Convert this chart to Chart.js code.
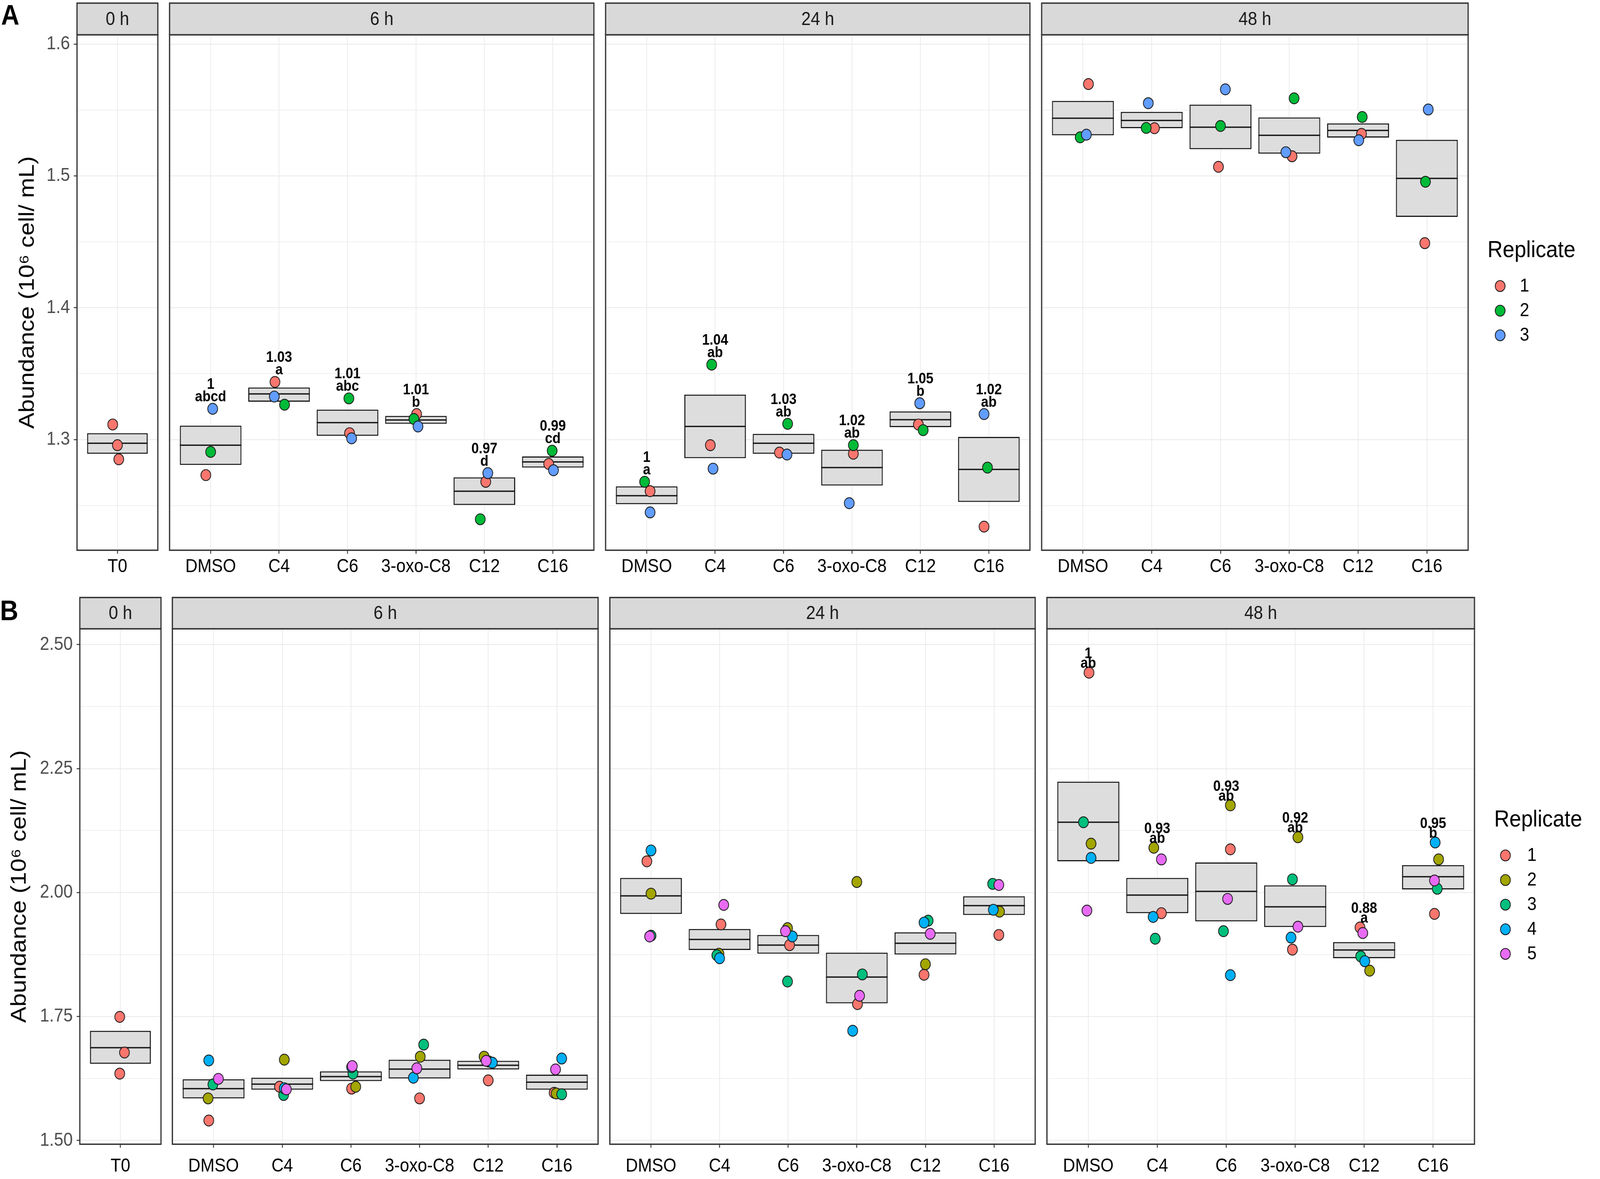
<!DOCTYPE html>
<html><head><meta charset="utf-8">
<script src="https://cdn.jsdelivr.net/npm/chart.js@4.4.1/dist/chart.umd.min.js"></script>
<style>
html,body{margin:0;padding:0;background:#fff;overflow:hidden;}
body{position:relative;font-family:"Liberation Sans",Arial,sans-serif;}
#stage{position:absolute;left:0;top:0;width:4550px;height:3017px;transform-origin:0 0;background:#fff;}
canvas{position:absolute;}
.tag{position:absolute;font-weight:bold;font-size:72px;line-height:72px;font-family:"Liberation Sans",Arial,sans-serif;color:#000;}
</style></head><body>
<div id="stage">
<div class="tag" style="left:3px;top:2px">A</div>
<div class="tag" style="left:0px;top:1526px">B</div>
</div>
<script>
// ---------------- categories / texts ----------------
const catsT0 = ['T0'];
const catsTrt = ['DMSO', 'C4', 'C6', '3-oxo-C8', 'C12', 'C16'];
const facetNames = ['0 h', '6 h', '24 h', '48 h'];
const yTitle = 'Abundance (10\u2076 cell/ mL)';
const legendTitle = 'Replicate';

// ---------------- Panel A ----------------
const repsA = ['1', '2', '3'];
const colorsA = ['#F8766D', '#00BA38', '#619CFF'];
const ticksA = [1.3, 1.4, 1.5, 1.6];
const tickLabelsA = ['1.3', '1.4', '1.5', '1.6'];
const minorTicksA = [1.25, 1.35, 1.45, 1.55];

const a0Mean = [1.2972], a0Lo = [1.2892], a0Hi = [1.3048];
const a0Points = [1.3114, 1.2957, 1.2850];
const a0Jit = [-0.07, 0.00, 0.02];

const a6Mean = [1.2957, 1.3346, 1.3128, 1.3148, 1.2608, 1.2830];
const a6Lo   = [1.2807, 1.3287, 1.3028, 1.3119, 1.2503, 1.2787];
const a6Hi   = [1.3105, 1.3395, 1.3227, 1.3179, 1.2713, 1.2872];
const a6R1 = [1.2730, 1.3437, 1.3048, 1.3193, 1.2679, 1.2815];
const a6R2 = [1.2906, 1.3264, 1.3312, 1.3156, 1.2395, 1.2915];
const a6R3 = [1.3233, 1.3326, 1.3009, 1.3099, 1.2745, 1.2767];
const a6J1 = [-0.07, -0.06, 0.03, 0.01, 0.02, -0.06];
const a6J2 = [0.00, 0.08, 0.02, -0.03, -0.06, -0.01];
const a6J3 = [0.03, -0.07, 0.06, 0.03, 0.05, 0.01];
const a6Num = ['1', '1.03', '1.01', '1.01', '0.97', '0.99'];
const a6Let = ['abcd', 'a', 'abc', 'b', 'd', 'cd'];

const a24Mean = [1.2574, 1.3099, 1.2972, 1.2787, 1.3150, 1.2773];
const a24Lo   = [1.2509, 1.2858, 1.2892, 1.2651, 1.3094, 1.2526];
const a24Hi   = [1.2645, 1.3341, 1.3043, 1.2923, 1.3213, 1.3020];
const a24R1 = [1.2608, 1.2957, 1.2901, 1.2892, 1.3114, 1.2339];
const a24R2 = [1.2679, 1.3568, 1.3119, 1.2957, 1.3071, 1.2787];
const a24R3 = [1.2447, 1.2779, 1.2886, 1.2517, 1.3275, 1.3193];
const a24J1 = [0.05, -0.07, -0.06, 0.02, -0.03, -0.07];
const a24J2 = [-0.03, -0.05, 0.06, 0.02, 0.04, -0.02];
const a24J3 = [0.05, -0.03, 0.05, -0.04, -0.01, -0.07];
const a24Num = ['1', '1.04', '1.03', '1.02', '1.05', '1.02'];
const a24Let = ['a', 'ab', 'ab', 'ab', 'b', 'ab'];

const a48Mean = [1.5438, 1.5421, 1.5370, 1.5308, 1.5345, 1.4981];
const a48Lo   = [1.5308, 1.5362, 1.5203, 1.5169, 1.5291, 1.4689];
const a48Hi   = [1.5569, 1.5486, 1.5541, 1.5444, 1.5399, 1.5274];
const a48R1 = [1.5697, 1.5362, 1.5069, 1.5149, 1.5319, 1.4490];
const a48R2 = [1.5293, 1.5364, 1.5379, 1.5589, 1.5447, 1.4956];
const a48R3 = [1.5313, 1.5552, 1.5657, 1.5180, 1.5271, 1.5504];
const a48J1 = [0.08, 0.04, -0.03, 0.04, 0.05, -0.03];
const a48J2 = [-0.04, -0.08, 0.00, 0.07, 0.06, -0.02];
const a48J3 = [0.05, -0.05, 0.07, -0.05, 0.01, 0.02];

// ---------------- Panel B ----------------
const repsB = ['1', '2', '3', '4', '5'];
const colorsB = ['#F8766D', '#A3A500', '#00BF7D', '#00B0F6', '#E76BF3'];
const ticksB = [1.5, 1.75, 2.0, 2.25, 2.5];
const tickLabelsB = ['1.50', '1.75', '2.00', '2.25', '2.50'];
const minorTicksB = [1.625, 1.875, 2.125, 2.375];

const b0Mean = [1.6871], b0Lo = [1.6545], b0Hi = [1.7212];
const b0Points = [1.7492, 1.6773, 1.6348];
const b0Jit = [-0.01, 0.06, -0.01];

const b6Mean = [1.6045, 1.6136, 1.6288, 1.6439, 1.6515, 1.6174];
const b6Lo   = [1.5848, 1.6023, 1.6197, 1.6250, 1.6432, 1.6023];
const b6Hi   = [1.6235, 1.6265, 1.6394, 1.6629, 1.6606, 1.6326];
const b6R1 = [1.5402, 1.6083, 1.6045, 1.5848, 1.6212, 1.5962];
const b6R2 = [1.5848, 1.6629, 1.6083, 1.6689, 1.6689, 1.5947];
const b6R3 = [1.6129, 1.5917, 1.6348, 1.6932, 1.6591, 1.5932];
const b6R4 = [1.6614, 1.6053, 1.6480, 1.6265, 1.6568, 1.6652];
const b6R5 = [1.6242, 1.6030, 1.6500, 1.6455, 1.6606, 1.6432];
const b6J1 = [-0.07, -0.04, 0.01, 0.00, 0.00, -0.04];
const b6J2 = [-0.08, 0.03, 0.07, 0.01, -0.06, -0.01];
const b6J3 = [-0.01, 0.02, 0.03, 0.06, 0.01, 0.07];
const b6J4 = [-0.07, 0.03, 0.01, -0.09, 0.06, 0.07];
const b6J5 = [0.07, 0.06, 0.02, -0.04, -0.03, -0.02];

const b24Mean = [1.9932, 1.9053, 1.8939, 1.8295, 1.8977, 1.9735];
const b24Lo   = [1.9568, 1.8841, 1.8765, 1.7765, 1.8750, 1.9545];
const b24Hi   = [2.0295, 1.9265, 1.9144, 1.8788, 1.9197, 1.9924];
const b24R1 = [2.0629, 1.9356, 1.8939, 1.7750, 1.8341, 1.9144];
const b24R2 = [1.9977, 1.8765, 1.9280, 2.0212, 1.8553, 1.9614];
const b24R3 = [1.9129, 1.8735, 1.8205, 1.8348, 1.9432, 2.0174];
const b24R4 = [2.0848, 1.8674, 1.9114, 1.7212, 1.9394, 1.9652];
const b24R5 = [1.9114, 1.9750, 1.9220, 1.7917, 1.9167, 2.0152];
const b24J1 = [-0.06, 0.02, 0.02, 0.01, -0.02, 0.07];
const b24J2 = [0.00, -0.01, -0.01, 0.00, 0.00, 0.08];
const b24J3 = [0.00, -0.04, -0.01, 0.08, 0.04, -0.02];
const b24J4 = [0.00, 0.00, 0.06, -0.06, -0.02, -0.01];
const b24J5 = [-0.02, 0.06, -0.04, 0.04, 0.07, 0.07];

const b48Mean = [2.1417, 1.9947, 2.0023, 1.9712, 1.8841, 2.0318];
const b48Lo   = [2.0629, 1.9583, 1.9417, 1.9303, 1.8674, 2.0061];
const b48Hi   = [2.2235, 2.0295, 2.0606, 2.0144, 1.9000, 2.0553];
const b48R1 = [2.4432, 1.9583, 2.0871, 1.8848, 1.9295, 1.9568];
const b48R2 = [2.0985, 2.0902, 2.1758, 2.1114, 1.8424, 2.0667];
const b48R3 = [2.1417, 1.9068, 1.9220, 2.0265, 1.8712, 2.0076];
const b48R4 = [2.0697, 1.9508, 1.8333, 1.9091, 1.8614, 2.1008];
const b48R5 = [1.9636, 2.0667, 1.9871, 1.9311, 1.9182, 2.0242];
const b48J1 = [0.01, 0.06, 0.06, -0.04, -0.06, 0.02];
const b48J2 = [0.04, -0.05, 0.06, 0.04, 0.08, 0.08];
const b48J3 = [-0.07, -0.03, -0.04, -0.04, -0.05, 0.06];
const b48J4 = [0.04, -0.06, 0.06, -0.06, 0.01, 0.03];
const b48J5 = [-0.02, 0.06, 0.02, 0.04, -0.02, 0.02];
const b48Num = ['1', '0.93', '0.93', '0.92', '0.88', '0.95'];
const b48Let = ['ab', 'ab', 'ab', 'ab', 'a', 'b'];

// ---------------- assembled structures ----------------
const panelA = {
  reps: repsA, colors: colorsA, ticks: ticksA, tickLabels: tickLabelsA, minor: minorTicksA,
  facets: [
    {cats: catsT0, mean: a0Mean, lo: a0Lo, hi: a0Hi, t0: a0Points, t0Jit: a0Jit},
    {cats: catsTrt, mean: a6Mean, lo: a6Lo, hi: a6Hi, vals: [a6R1, a6R2, a6R3], jit: [a6J1, a6J2, a6J3], nums: a6Num, lets: a6Let},
    {cats: catsTrt, mean: a24Mean, lo: a24Lo, hi: a24Hi, vals: [a24R1, a24R2, a24R3], jit: [a24J1, a24J2, a24J3], nums: a24Num, lets: a24Let},
    {cats: catsTrt, mean: a48Mean, lo: a48Lo, hi: a48Hi, vals: [a48R1, a48R2, a48R3], jit: [a48J1, a48J2, a48J3]}
  ]
};
const panelB = {
  reps: repsB, colors: colorsB, ticks: ticksB, tickLabels: tickLabelsB, minor: minorTicksB,
  facets: [
    {cats: catsT0, mean: b0Mean, lo: b0Lo, hi: b0Hi, t0: b0Points, t0Jit: b0Jit},
    {cats: catsTrt, mean: b6Mean, lo: b6Lo, hi: b6Hi, vals: [b6R1, b6R2, b6R3, b6R4, b6R5], jit: [b6J1, b6J2, b6J3, b6J4, b6J5]},
    {cats: catsTrt, mean: b24Mean, lo: b24Lo, hi: b24Hi, vals: [b24R1, b24R2, b24R3, b24R4, b24R5], jit: [b24J1, b24J2, b24J3, b24J4, b24J5]},
    {cats: catsTrt, mean: b48Mean, lo: b48Lo, hi: b48Hi, vals: [b48R1, b48R2, b48R3, b48R4, b48R5], jit: [b48J1, b48J2, b48J3, b48J4, b48J5], nums: b48Num, lets: b48Let}
  ]
};

// ---------------- geometry (layout only) ----------------
const geomA = {top: 0, height: 1510, stripTop: 8, plotTop: 89, plotBottom: 1408,
  facetX: [[219, 454.7], [476.1, 1694.8], [1716.2, 2934.9], [2956.3, 4175]],
  yMin: 1.2160, yMax: 1.6071, titleCenter: 79, xPad: 5, letOff: 19, numOff: 51,
  legend: {titleX: 4230, titleY: 641, keyX: 4266, keyY0: 732, keyStep: 63, labelX: 4322}};
const geomB = {top: 1510, height: 1507, stripTop: 1529, plotTop: 1609, plotBottom: 2928,
  facetX: [[227, 463.5], [484.9, 1706.7], [1728.1, 2949.9], [2971.3, 4193]],
  yMin: 1.4924, yMax: 2.5318, titleCenter: 56, xPad: 19, letOff: 12, numOff: 37,
  legend: {titleX: 4249, titleY: 2098, keyX: 4281, keyY0: 2189, keyStep: 63, labelX: 4343}};

// map the 4550x3017 stage onto the CSS viewport the browser actually has
const stage = document.getElementById('stage');
const vw = document.documentElement.clientWidth || window.innerWidth;
const vh = document.documentElement.clientHeight || window.innerHeight;
const sx = vw / 4550, sy = vh / 3017;
stage.style.transform = 'scale(' + sx + ',' + sy + ')';
document.body.style.width = vw + 'px';
document.body.style.height = vh + 'px';

const FONT = '"Liberation Sans", Arial, sans-serif';
Chart.defaults.font.family = FONT;
Chart.defaults.color = '#000';

function makeFacetPlugin(info) {
  return {
    id: 'facet',
    afterDatasetDraw(chart, args) {
      if (args.meta.type !== 'bar') return;
      const ctx = chart.ctx, ys = chart.scales.y;
      ctx.save();
      ctx.strokeStyle = '#1A1A1A';
      ctx.lineWidth = 3.5;
      args.meta.data.forEach((bar, i) => {
        const y = ys.getPixelForValue(info.mean[i]);
        ctx.beginPath();
        ctx.moveTo(bar.x - bar.width / 2, y);
        ctx.lineTo(bar.x + bar.width / 2, y);
        ctx.stroke();
      });
      ctx.restore();
    },
    afterDatasetsDraw(chart) {
      const ctx = chart.ctx, xs = chart.scales.x, ys = chart.scales.y, ca = chart.chartArea;
      ctx.save();
      if (info.nums) {
        ctx.fillStyle = '#000';
        ctx.textAlign = 'center';
        ctx.textBaseline = 'alphabetic';
        ctx.font = 'bold 38px ' + FONT;
        info.cats.forEach((c, i) => {
          const top = Math.max(...info.vals.map(v => v[i]));
          const px = xs.getPixelForValue(i), py = ys.getPixelForValue(top);
          ctx.fillText(info.lets[i], px, py - info.letOff);
          ctx.fillText(info.nums[i], px, py - info.numOff);
        });
      }
      ctx.strokeStyle = '#333333';
      ctx.lineWidth = 3.5;
      ctx.strokeRect(ca.left, ca.top, ca.right - ca.left, ca.bottom - ca.top);
      const sTop = info.stripTop - info.cTop;
      ctx.fillStyle = '#D9D9D9';
      ctx.fillRect(ca.left, sTop, ca.right - ca.left, ca.top - sTop);
      ctx.strokeRect(ca.left, sTop, ca.right - ca.left, ca.top - sTop);
      ctx.fillStyle = '#1A1A1A';
      ctx.font = '48px ' + FONT;
      ctx.textAlign = 'center';
      ctx.textBaseline = 'middle';
      ctx.fillText(info.title, (ca.left + ca.right) / 2, (sTop + ca.top) / 2 + 2);
      if (info.legend) {
        const L = info.legend;
        ctx.textAlign = 'left';
        ctx.textBaseline = 'middle';
        ctx.fillStyle = '#000';
        ctx.font = '60px ' + FONT;
        ctx.fillText(legendTitle, L.titleX - info.cLeft, L.titleY - info.cTop);
        info.reps.forEach((r, k) => {
          const y = L.keyY0 + k * L.keyStep - info.cTop;
          ctx.beginPath();
          ctx.arc(L.keyX - info.cLeft, y, 14, 0, Math.PI * 2);
          ctx.fillStyle = info.colors[k];
          ctx.fill();
          ctx.lineWidth = 2.2;
          ctx.strokeStyle = '#1A1A1A';
          ctx.stroke();
          ctx.fillStyle = '#000';
          ctx.font = '48px ' + FONT;
          ctx.fillText(r, L.labelX - info.cLeft, y + 1);
        });
      }
      ctx.restore();
    }
  };
}

function pointStyle(color) {
  return {pointRadius: 14, pointHoverRadius: 14, pointBorderWidth: 2.2, pointBorderColor: '#1A1A1A',
          pointBackgroundColor: color, showLine: false};
}

function buildFacet(panel, geom, fi) {
  const f = panel.facets[fi];
  const [fl, fr] = geom.facetX[fi];
  const first = fi === 0, last = fi === panel.facets.length - 1;
  const cLeft = first ? 0 : Math.floor(fl - 10);
  const cRight = last ? 4550 : Math.ceil(fr + 10);
  const W = cRight - cLeft, H = geom.height;
  const cv = document.createElement('canvas');
  cv.width = W; cv.height = H;
  cv.style.left = cLeft + 'px'; cv.style.top = geom.top + 'px';
  cv.style.width = W + 'px'; cv.style.height = H + 'px';
  stage.appendChild(cv);

  const n = f.cats.length;
  const datasets = [{
    type: 'bar',
    data: f.cats.map((c, i) => ({x: i, y: [f.lo[i], f.hi[i]]})),
    backgroundColor: '#DDDDDD', borderColor: '#1A1A1A', borderWidth: 3, borderSkipped: false,
    categoryPercentage: 1, barPercentage: n === 1 ? 0.75 : 0.9, order: 100
  }];
  if (f.t0) {
    datasets.push(Object.assign({type: 'scatter', order: 50,
      data: f.t0.map((v, k) => ({x: f.t0Jit[k], y: v}))}, pointStyle(panel.colors[0])));
  } else {
    f.vals.forEach((vals, r) => {
      datasets.push(Object.assign({type: 'scatter', order: 50 - r,
        data: vals.map((v, i) => ({x: i + f.jit[r][i], y: v}))}, pointStyle(panel.colors[r])));
    });
  }
  const allY = panel.ticks.map(v => ({value: v})).concat(panel.minor.map(v => ({value: v, minor: true})))
    .sort((a, b) => a.value - b.value);

  const info = {cats: f.cats, mean: f.mean, vals: f.vals, nums: f.nums, lets: f.lets,
    letOff: geom.letOff, numOff: geom.numOff, stripTop: geom.stripTop, cTop: geom.top, cLeft: cLeft,
    title: facetNames[fi], legend: last ? geom.legend : null, reps: panel.reps, colors: panel.colors};

  new Chart(cv, {
    type: 'scatter',
    data: {datasets},
    plugins: [makeFacetPlugin(info)],
    options: {
      responsive: false, animation: false, events: [],
      layout: {padding: {top: geom.plotTop - geom.top, left: first ? 0 : fl - cLeft, right: cRight - fr, bottom: 0}},
      plugins: {legend: {display: false}, tooltip: {enabled: false}},
      scales: {
        x: {
          type: 'linear', min: -0.6, max: n - 0.4, offset: false, bounds: 'data',
          afterBuildTicks: s => { s.ticks = f.cats.map((c, i) => ({value: i})); },
          afterFit: s => { s.height = geom.top + geom.height - geom.plotBottom; },
          ticks: {autoSkip: false, maxRotation: 0, minRotation: 0, padding: geom.xPad, color: '#000',
                  font: {size: 48}, callback: v => f.cats[v]},
          grid: {offset: false, color: '#EBEBEB', lineWidth: 2.2, drawTicks: true, tickLength: 9,
                 tickColor: '#333333', tickWidth: 2.5},
          border: {display: false}
        },
        y: {
          type: 'linear', position: 'left', min: geom.yMin, max: geom.yMax, bounds: 'data',
          afterBuildTicks: s => { s.ticks = allY.map(t => Object.assign({}, t)); },
          afterFit: s => { s.width = first ? fl : 0; },
          ticks: {display: first, autoSkip: false, padding: 11, color: '#4D4D4D', font: {size: 48},
                  callback: (v, i, ts) => ts[i].minor ? '' : panel.tickLabels[panel.ticks.indexOf(v)]},
          grid: {color: '#EBEBEB', lineWidth: c => (c.tick && c.tick.minor) ? 1.5 : 2.2,
                 drawTicks: first, tickLength: 9, tickWidth: 2.5,
                 tickColor: c => (c.tick && c.tick.minor) ? 'rgba(0,0,0,0)' : '#333333'},
          border: {display: false},
          title: {display: first, text: yTitle, color: '#000', font: {size: 62},
                  padding: {top: geom.titleCenter - 37.2, bottom: 0}}
        }
      }
    }
  });
}

[0, 1, 2, 3].forEach(i => buildFacet(panelA, geomA, i));
[0, 1, 2, 3].forEach(i => buildFacet(panelB, geomB, i));
</script>
</body></html>
